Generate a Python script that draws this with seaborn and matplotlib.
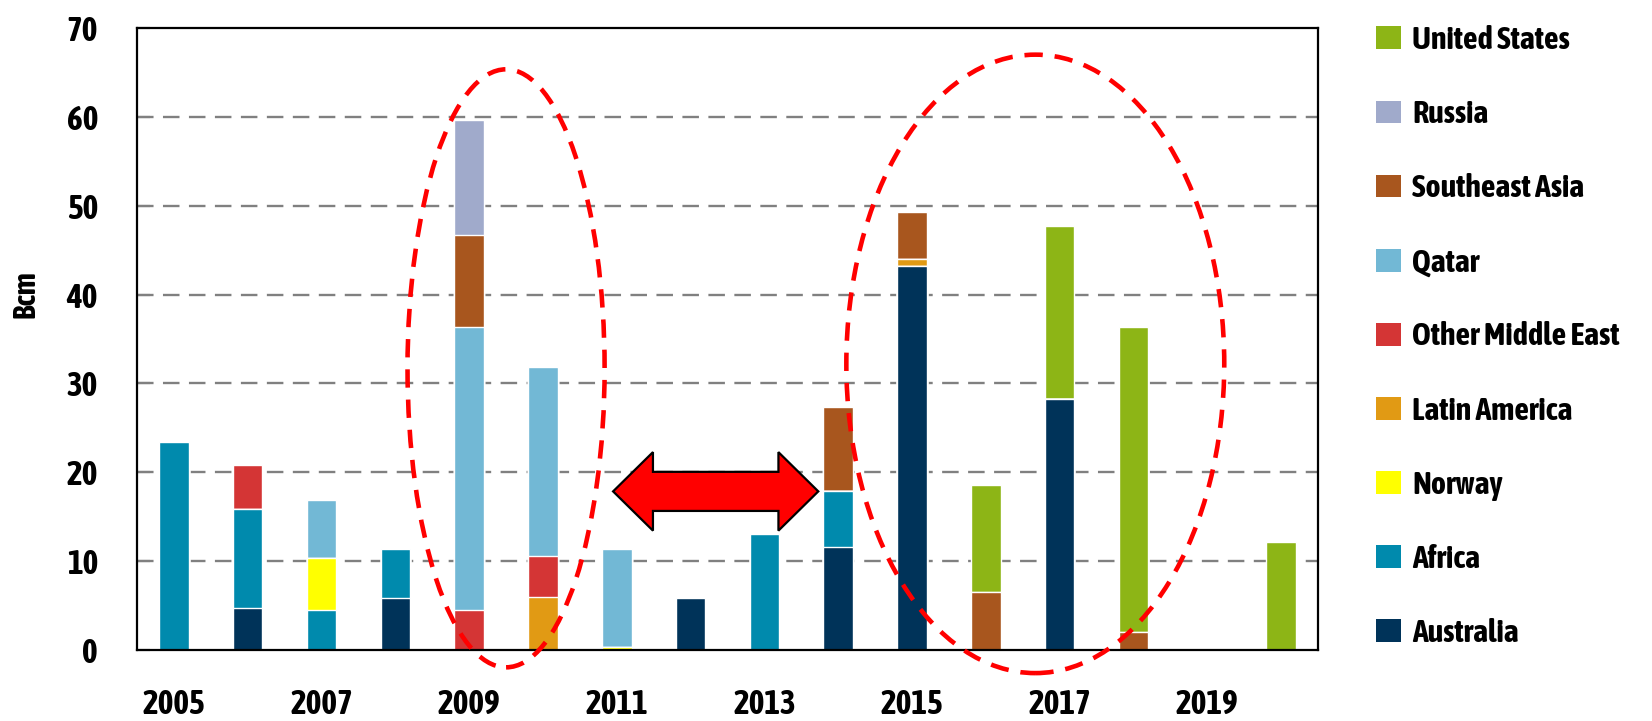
import numpy as np
import pandas as pd
import matplotlib
matplotlib.use("Agg")
import matplotlib.pyplot as plt
import matplotlib.patches as mpatches
import matplotlib.patheffects as pe
from matplotlib import font_manager as fm
import seaborn as sns

years = [str(y) for y in range(2005, 2021)]
australia = [0, 4.75, 0, 5.9, 0, 0, 0, 5.9, 0, 11.6, 43.2, 0, 28.3, 0, 0, 0]
africa = [23.4, 11.15, 4.55, 5.5, 0, 0, 0, 0, 13.0, 6.3, 0, 0, 0, 0, 0, 0]
norway = [0, 0, 5.85, 0, 0, 0, 0.35, 0, 0, 0, 0, 0, 0, 0, 0, 0]
latin_america = [0, 0, 0, 0, 0, 6.0, 0, 0, 0, 0, 0.8, 0, 0, 0, 0, 0]
other_me = [0, 4.9, 0, 0, 4.55, 4.6, 0, 0, 0, 0, 0, 0, 0, 0, 0, 0]
qatar = [0, 0, 6.5, 0, 31.85, 21.2, 11.05, 0, 0, 0, 0, 0, 0, 0, 0, 0]
se_asia = [0, 0, 0, 0, 10.3, 0, 0, 0, 0, 9.4, 5.3, 6.5, 0, 2.0, 0, 0]
russia = [0, 0, 0, 0, 13.0, 0, 0, 0, 0, 0, 0, 0, 0, 0, 0, 0]
united_states = [0, 0, 0, 0, 0, 0, 0, 0, 0, 0, 0, 12.1, 19.4, 34.3, 0, 12.1]

series_names = ["Australia", "Africa", "Norway", "Latin America", "Other Middle East",
                "Qatar", "Southeast Asia", "Russia", "United States"]
series_vals = [australia, africa, norway, latin_america, other_me,
               qatar, se_asia, russia, united_states]
colors = ["#003359", "#008AAD", "#FFFF00", "#E19A14", "#D43535",
          "#72B8D5", "#A8561E", "#A0AACB", "#8DB516"]
yticks = [0, 10, 20, 30, 40, 50, 60, 70]

sns.set_theme(style="white")


def _w(f):
    w = f.weight
    if isinstance(w, str):
        return 700 if "bold" in w.lower() or "black" in w.lower() or "heavy" in w.lower() else 400
    return int(w)


entries = fm.fontManager.ttflist
narrow_all = sorted({f.name for f in entries if ("Narrow" in f.name or "Condensed" in f.name)})
narrow_bold = sorted({f.name for f in entries
                      if ("Narrow" in f.name or "Condensed" in f.name) and _w(f) >= 600})
effects = None
if narrow_bold:
    fam = narrow_bold[0]
    tick_fs, leg_fs, lab_fs = 24, 23, 22
elif narrow_all:
    fam = narrow_all[0]
    tick_fs, leg_fs, lab_fs = 24.5, 23.5, 22
    effects = [pe.withStroke(linewidth=1.3, foreground="black")]
else:
    fam = "Roboto"
    tick_fs, leg_fs, lab_fs = 19, 20, 19
plt.rcParams["font.family"] = [fam, "DejaVu Sans"]
plt.rcParams["text.color"] = "black"
plt.rcParams["xtick.color"] = "black"
plt.rcParams["ytick.color"] = "black"
plt.rcParams["axes.labelcolor"] = "black"

fig = plt.figure(figsize=(16.52, 7.21), dpi=100)
ax = fig.add_axes([137 / 1652, 1 - 650 / 721, (1318 - 137) / 1652, (650 - 28) / 721])

cum = np.cumsum(np.array(series_vals), axis=0)
for i in range(len(series_names) - 1, -1, -1):
    df = pd.DataFrame({"year": years, "value": cum[i]})
    sns.barplot(data=df, x="year", y="value", order=years, color=colors[i],
                saturation=1, width=0.4, errorbar=None, ax=ax, zorder=3)

ax.set_xlim(-0.5, 15.5)
ax.set_ylim(0, 70)
ax.set_yticks(yticks)
ax.set_yticklabels([str(v) for v in yticks])
ax.set_xticks(range(0, 16, 2))
ax.set_xticklabels(years[::2])
ax.set_xticks(np.arange(0.5, 15, 1), minor=True)
ax.tick_params(axis="x", which="major", length=0, pad=27, labelsize=tick_fs, labelcolor="black")
ax.tick_params(axis="x", which="minor", direction="in", length=8, width=1.5, color="black")
ax.tick_params(axis="y", which="major", direction="in", length=9, width=1.5, color="black",
               pad=28, labelsize=tick_fs, left=True, labelcolor="black")
ax.set_xlabel("")
ax.set_ylabel("Bcm", fontsize=lab_fs, fontweight="bold", color="black")
ax.yaxis.set_label_coords(-0.081, 0.572)

texts = ax.get_xticklabels() + ax.get_yticklabels() + [ax.yaxis.label]
for t in texts:
    t.set_fontweight("bold")
    if effects:
        t.set_path_effects(effects)

for v in yticks[1:-1]:
    ax.axhline(v, color="#808080", lw=1.7, dashes=(7, 4), zorder=1)
for sp in ax.spines.values():
    sp.set_color("black")
    sp.set_linewidth(1.6)
    sp.set_zorder(5)

# annotations
for cx, cy, w, h in [(4.50, 31.7, 2.67, 67.3), (11.67, 32.2, 5.12, 69.6)]:
    e = mpatches.Ellipse((cx, cy), w, h, fill=False, edgecolor="#FF0000", lw=3.3,
                         linestyle=(0, (4, 2.6)), clip_on=False, zorder=6)
    ax.add_patch(e)

x0, x1, yc = 5.95, 8.73, 17.85
hl, hh, sh = 0.54, 4.42, 2.2
arrow_pts = [(x0, yc), (x0 + hl, yc + hh), (x0 + hl, yc + sh), (x1 - hl, yc + sh),
             (x1 - hl, yc + hh), (x1, yc), (x1 - hl, yc - hh), (x1 - hl, yc - sh),
             (x0 + hl, yc - sh), (x0 + hl, yc - hh)]
ax.add_patch(mpatches.Polygon(arrow_pts, closed=True, facecolor="#FF0000",
                              edgecolor="black", lw=1.6, zorder=7))

fs_px = leg_fs * 100 / 72
handles = [mpatches.Patch(facecolor=colors[i], edgecolor="none", label=series_names[i])
           for i in range(len(series_names) - 1, -1, -1)]
leg = fig.legend(handles=handles, loc="upper left", bbox_to_anchor=(1376 / 1652, 1 - 25 / 721),
                 frameon=False, fontsize=leg_fs, handlelength=25 / fs_px, handleheight=23 / fs_px,
                 handletextpad=11 / fs_px, labelspacing=(73.45 - 0.95 * fs_px) / fs_px,
                 borderaxespad=0, borderpad=0)
for t in leg.get_texts():
    t.set_fontweight("bold")
    t.set_color("black")
    if effects:
        t.set_path_effects(effects)

fig.savefig("out.png", dpi=100)
